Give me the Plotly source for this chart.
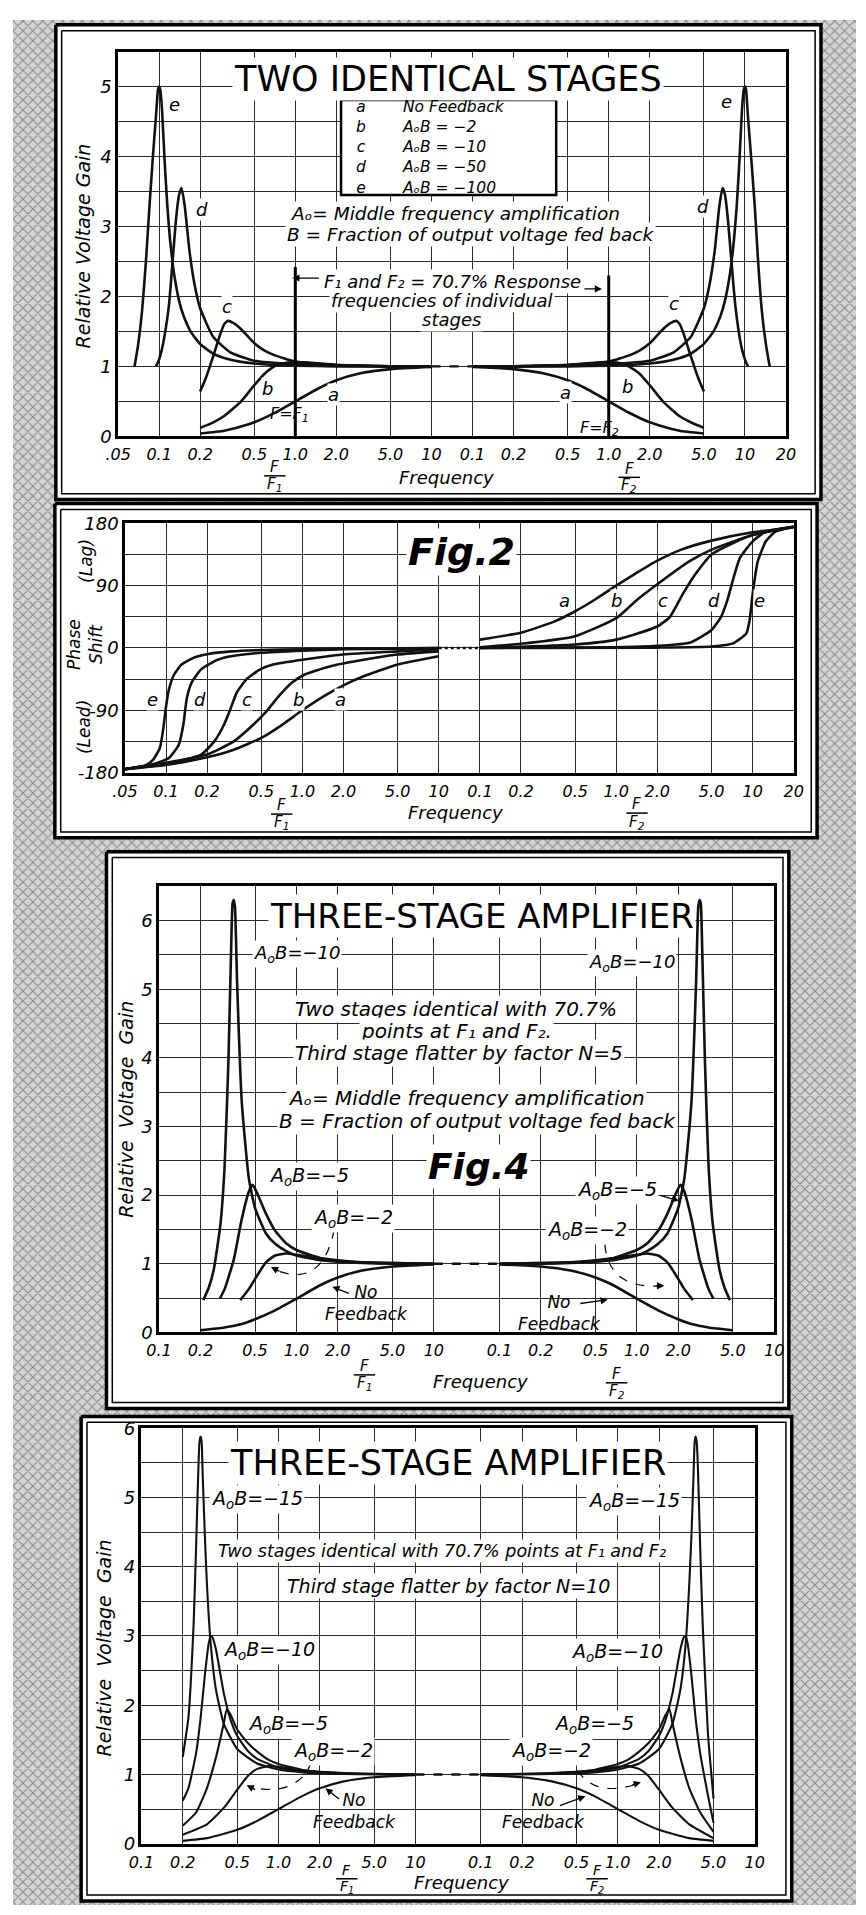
import math
import plotly.graph_objects as go

W, H = 866, 1915
FONT = "DejaVu Sans, Liberation Sans, Arial, sans-serif"
GRID = "#2a2a2a"

# ---------------- tick labels ----------------
P12_TICKS_L = [0.05, 0.1, 0.2, 0.5, 1, 2, 5, 10]
P12_TICKS_R = [0.1, 0.2, 0.5, 1, 2, 5, 10, 20]
P12_LABELS_L = [".05", "0.1", "0.2", "0.5", "1.0", "2.0", "5.0", "10"]
P12_LABELS_R = ["0.1", "0.2", "0.5", "1.0", "2.0", "5.0", "10", "20"]
P34_TICKS = [0.1, 0.2, 0.5, 1, 2, 5, 10]
P34_LABELS = ["0.1", "0.2", "0.5", "1.0", "2.0", "5.0", "10"]
JOIN_12 = 200   # right half (F/F2) offset on the shared log scale
JOIN_34 = 300

# ---------------- Panel 1: two identical stages (relative gain) ----------------
p1_a_fL = [0.2, 0.3, 0.4, 0.5, 0.7, 1.0, 1.5, 2.0, 3.0, 5.0, 10]
p1_a_yL = [0.04, 0.08, 0.14, 0.2, 0.33, 0.5, 0.69, 0.8, 0.9, 0.96, 0.99]
p1_a_fR = [0.1, 0.2, 0.33, 0.5, 0.67, 1.0, 1.4, 2.0, 2.5, 3.3, 5.0]
p1_a_yR = [0.99, 0.96, 0.9, 0.8, 0.69, 0.5, 0.34, 0.2, 0.14, 0.08, 0.04]

p1_b_fL = [0.2, 0.25, 0.3, 0.4, 0.5, 0.6, 0.7, 0.8, 1.0, 1.5, 2.0, 3.0, 5.0, 10]
p1_b_yL = [0.12, 0.2, 0.29, 0.5, 0.73, 0.9, 1.0, 1.04, 1.06, 1.04, 1.02, 1.01, 1.0, 1.0]
p1_b_fR = [0.1, 0.2, 0.33, 0.5, 0.67, 1.0, 1.25, 1.4, 1.67, 2.0, 2.5, 3.3, 4.0, 5.0]
p1_b_yR = [1.0, 1.0, 1.01, 1.02, 1.04, 1.06, 1.04, 1.0, 0.9, 0.73, 0.5, 0.29, 0.2, 0.12]

p1_c_fL = [0.2, 0.22, 0.25, 0.28, 0.3, 0.32, 0.35, 0.4, 0.5, 0.6, 0.7, 1.0, 1.5, 2.0, 3.0, 5.0, 10]
p1_c_yL = [0.64, 0.83, 1.15, 1.45, 1.6, 1.65, 1.62, 1.53, 1.33, 1.22, 1.16, 1.07, 1.035, 1.02, 1.01, 1.0, 1.0]
p1_c_fR = [0.1, 0.2, 0.33, 0.5, 0.67, 1.0, 1.43, 1.67, 2.0, 2.5, 2.86, 3.13, 3.33, 3.57, 4.0, 4.55, 5.0]
p1_c_yR = [1.0, 1.0, 1.01, 1.02, 1.035, 1.07, 1.16, 1.22, 1.33, 1.53, 1.62, 1.65, 1.6, 1.45, 1.15, 0.83, 0.64]

p1_d_fL = [0.095, 0.1, 0.105, 0.111, 0.118, 0.125, 0.133, 0.14, 0.146, 0.154, 0.167, 0.182, 0.2, 0.25, 0.333, 0.5, 1.0, 2.0, 5.0, 10]
p1_d_yL = [1.0, 1.1, 1.25, 1.5, 1.87, 2.45, 3.1, 3.45, 3.55, 3.3, 2.65, 2.17, 1.83, 1.42, 1.2, 1.08, 1.03, 1.01, 1.0, 1.0]
p1_d_fR = [0.1, 0.2, 0.5, 1.0, 2.0, 3.0, 4.0, 5.0, 5.5, 6.0, 6.5, 6.85, 7.15, 7.5, 8.0, 8.5, 9.0, 9.5, 10.0, 10.5]
p1_d_yR = [1.0, 1.0, 1.01, 1.03, 1.08, 1.2, 1.42, 1.83, 2.17, 2.65, 3.3, 3.55, 3.45, 3.1, 2.45, 1.87, 1.5, 1.25, 1.1, 1.0]

p1_e_fL = [0.066, 0.07, 0.075, 0.08, 0.085, 0.09, 0.095, 0.098, 0.1, 0.102, 0.105, 0.11, 0.115, 0.12, 0.125,
           0.13, 0.14, 0.15, 0.17, 0.2, 0.25, 0.3, 0.4, 0.5, 0.7, 1.0, 2.0, 5.0, 10]
p1_e_yL = [1.0, 1.3, 1.8, 2.5, 3.3, 4.0, 4.6, 4.95, 5.0, 4.95, 4.67, 3.9, 3.28, 2.83, 2.51,
           2.27, 1.94, 1.74, 1.5, 1.32, 1.18, 1.12, 1.064, 1.04, 1.02, 1.01, 1.0, 1.0, 1.0]
p1_e_fR = [0.1, 0.2, 0.5, 1.0, 1.43, 2.0, 2.5, 3.33, 4.0, 5.0, 5.88, 6.67, 7.14, 7.69, 8.0, 8.33, 8.7,
           9.09, 9.52, 9.8, 10.0, 10.2, 10.5, 11.1, 11.8, 12.5, 13.3, 14.3, 15.2]
p1_e_yR = [1.0, 1.0, 1.0, 1.01, 1.02, 1.04, 1.064, 1.12, 1.18, 1.32, 1.5, 1.74, 1.94, 2.27, 2.51, 2.83, 3.28,
           3.9, 4.67, 4.95, 5.0, 4.95, 4.6, 4.0, 3.3, 2.5, 1.8, 1.3, 1.0]

# ---------------- Panel 2: phase shift (degrees) ----------------
p2_a_fL = [0.05, 0.1, 0.2, 0.314, 0.5, 0.676, 1.0, 1.46, 2.0, 2.81, 5.0, 10]
p2_a_yL = [-175, -169, -158, -147, -130, -114, -90, -69, -54, -41, -24, -12]
p2_b_fL = [0.05, 0.1, 0.2, 0.314, 0.436, 0.543, 0.676, 0.84, 1.05, 1.63, 2.81, 5.0, 10]
p2_b_yL = [-175, -166, -154, -135, -111, -92, -69, -50, -38, -26, -17, -9.5, -5]
p2_c_fL = [0.05, 0.1, 0.181, 0.226, 0.266, 0.297, 0.331, 0.39, 0.49, 0.61, 1.0, 2.0, 5.0, 10]
p2_c_yL = [-175, -168, -154, -135, -111, -88, -64, -45, -31, -24, -17, -9.5, -5, -2]
p2_d_fL = [0.05, 0.08, 0.105, 0.124, 0.134, 0.142, 0.154, 0.181, 0.239, 0.3, 0.5, 1.0, 2.0, 5.0, 10]
p2_d_yL = [-175, -168, -159, -140, -111, -73, -50, -31, -17, -12, -7, -4, -2, -1, 0]
p2_e_fL = [0.05, 0.07, 0.08, 0.09, 0.095, 0.1, 0.105, 0.115, 0.13, 0.16, 0.2, 0.3, 0.5, 1.0, 2.0, 5.0, 10]
p2_e_yL = [-175, -170, -162, -145, -120, -85, -60, -38, -24, -14, -9, -5, -3, -2, -1, -0.5, 0]

p2_a_fR = [0.1, 0.2, 0.35, 0.5, 0.7, 1.0, 1.4, 2.0, 3.0, 5.0, 10, 20]
p2_a_yR = [12, 22, 38, 53, 70, 90, 108, 126, 142, 155, 167, 174]
p2_b_fR = [0.1, 0.2, 0.5, 1.0, 1.41, 2.0, 3.43, 5.0, 10, 20]
p2_b_yR = [1, 6, 17, 43, 69, 92, 125, 142, 163, 175]
p2_c_fR = [0.1, 0.5, 1.0, 2.0, 2.48, 3.08, 3.82, 5.0, 7.26, 10, 20]
p2_c_yR = [0, 5, 12, 31, 45, 78, 107, 135, 152, 163, 175]
p2_d_fR = [0.1, 1.0, 2.0, 3.5, 5.0, 5.87, 6.53, 7.26, 8.07, 10, 12.5, 20]
p2_d_yR = [0, 1, 3, 8, 26, 45, 69, 102, 130, 154, 168, 175]
p2_e_fR = [0.1, 2.0, 5.0, 7.26, 8.99, 9.5, 10, 10.9, 12.5, 14.7, 20]
p2_e_yR = [0, 0.5, 2, 7, 21, 40, 78, 125, 154, 168, 175]

# ---------------- Panel 3: three-stage amplifier, N = 5 ----------------
p3_nf_fL = [0.2, 0.3, 0.4, 0.5, 0.7, 1.0, 1.5, 2.0, 3.0, 5.0, 10]
p3_nf_yL = [0.03, 0.07, 0.12, 0.19, 0.32, 0.49, 0.69, 0.8, 0.9, 0.96, 0.99]
p3_nf_fR = [0.1, 0.2, 0.33, 0.5, 0.67, 1.0, 1.43, 2.0, 2.5, 3.33, 5.0]
p3_nf_yR = [0.99, 0.96, 0.9, 0.8, 0.69, 0.49, 0.32, 0.19, 0.12, 0.07, 0.03]
p3_k2_fL = [0.39, 0.45, 0.5, 0.6, 0.7, 0.85, 1.0, 1.5, 2.0, 3.0, 5.0, 10]
p3_k2_yL = [0.47, 0.63, 0.78, 1.02, 1.12, 1.15, 1.13, 1.08, 1.05, 1.02, 1.01, 1.0]
p3_k2_fR = [0.1, 0.2, 0.33, 0.5, 0.67, 1.0, 1.18, 1.43, 1.67, 2.0, 2.22, 2.56]
p3_k2_yR = [1.0, 1.01, 1.02, 1.05, 1.08, 1.13, 1.15, 1.12, 1.02, 0.78, 0.63, 0.47]
p3_k5_fL = [0.277, 0.3, 0.35, 0.4, 0.45, 0.48, 0.52, 0.6, 0.7, 0.85, 1.0, 1.5, 2.0, 3.0, 5.0, 10]
p3_k5_yL = [0.49, 0.63, 1.06, 1.65, 2.05, 2.15, 2.02, 1.73, 1.48, 1.29, 1.2, 1.08, 1.04, 1.02, 1.01, 1.0]
p3_k5_fR = [0.1, 0.2, 0.33, 0.5, 0.67, 1.0, 1.18, 1.43, 1.67, 1.92, 2.08, 2.22, 2.5, 2.86, 3.33, 3.61]
p3_k5_yR = [1.0, 1.01, 1.02, 1.04, 1.08, 1.2, 1.29, 1.48, 1.73, 2.02, 2.15, 2.05, 1.65, 1.06, 0.63, 0.49]
p3_k10_fL = [0.21, 0.23, 0.25, 0.28, 0.3, 0.32, 0.335, 0.343, 0.35, 0.357, 0.37, 0.4, 0.45, 0.5, 0.6, 0.7,
             0.85, 1.0, 1.5, 2.0, 3.0, 5.0, 10]
p3_k10_yL = [0.47, 0.65, 0.91, 1.58, 2.41, 3.96, 5.6, 6.25, 6.3, 6.2, 5.1, 3.36, 2.25, 1.81, 1.44, 1.29,
             1.18, 1.12, 1.05, 1.03, 1.01, 1.0, 1.0]
p3_k10_fR = [0.1, 0.2, 0.33, 0.5, 0.67, 1.0, 1.18, 1.43, 1.67, 2.0, 2.22, 2.5, 2.7, 2.8, 2.86, 2.92, 2.99,
             3.13, 3.33, 3.57, 4.0, 4.35, 4.76]
p3_k10_yR = [1.0, 1.0, 1.01, 1.03, 1.05, 1.12, 1.18, 1.29, 1.44, 1.81, 2.25, 3.36, 5.1, 6.2, 6.3, 6.25, 5.6,
             3.96, 2.41, 1.58, 0.91, 0.65, 0.47]

# ---------------- Panel 4: three-stage amplifier, N = 10 ----------------
p4_nf_fL = [0.2, 0.3, 0.5, 0.7, 1.0, 1.5, 2.0, 3.0, 5.0, 10]
p4_nf_yL = [0.04, 0.08, 0.2, 0.33, 0.5, 0.69, 0.8, 0.9, 0.96, 0.99]
p4_nf_fR = [0.1, 0.2, 0.33, 0.5, 0.67, 1.0, 1.43, 2.0, 3.33, 5.0]
p4_nf_yR = [0.99, 0.96, 0.9, 0.8, 0.69, 0.5, 0.33, 0.2, 0.08, 0.04]
p4_k2_fL = [0.2, 0.3, 0.4, 0.5, 0.6, 0.7, 0.85, 1.0, 1.5, 2.0, 3.0, 5.0, 10]
p4_k2_yL = [0.13, 0.28, 0.52, 0.78, 0.98, 1.08, 1.12, 1.11, 1.06, 1.04, 1.02, 1.01, 1.0]
p4_k2_fR = [0.1, 0.2, 0.33, 0.5, 0.67, 1.0, 1.18, 1.43, 1.67, 2.0, 2.5, 3.33, 5.0]
p4_k2_yR = [1.0, 1.01, 1.02, 1.04, 1.06, 1.11, 1.12, 1.08, 0.98, 0.78, 0.52, 0.28, 0.08]
p4_k5_fL = [0.2, 0.25, 0.3, 0.35, 0.4, 0.42, 0.45, 0.5, 0.6, 0.7, 0.85, 1.0, 1.5, 2.0, 3.0, 5.0, 10]
p4_k5_yL = [0.26, 0.45, 0.8, 1.25, 1.75, 1.95, 1.85, 1.65, 1.45, 1.33, 1.21, 1.15, 1.065, 1.036, 1.016, 1.006, 1.0]
p4_k5_fR = [0.1, 0.2, 0.33, 0.5, 0.67, 1.0, 1.18, 1.43, 1.67, 2.0, 2.22, 2.38, 2.5, 2.86, 3.33, 4.0, 5.0]
p4_k5_yR = [1.0, 1.006, 1.016, 1.036, 1.065, 1.15, 1.21, 1.33, 1.45, 1.65, 1.85, 1.95, 1.75, 1.25, 0.8, 0.45, 0.17]
p4_k10_fL = [0.2, 0.22, 0.25, 0.27, 0.29, 0.31, 0.32, 0.33, 0.35, 0.4, 0.45, 0.5, 0.6, 0.7, 1.0, 1.5, 2.0, 3.0, 5.0, 10]
p4_k10_yL = [0.62, 0.8, 1.3, 1.81, 2.43, 2.9, 3.0, 2.98, 2.8, 2.16, 1.77, 1.556, 1.334, 1.226, 1.1, 1.042, 1.023, 1.01, 1.004, 1.0]
p4_k10_fR = [0.1, 0.2, 0.33, 0.5, 0.67, 1.0, 1.43, 1.67, 2.0, 2.22, 2.5, 2.86, 3.03, 3.13, 3.23, 3.45, 3.7, 4.0, 4.55, 5.0]
p4_k10_yR = [1.0, 1.004, 1.01, 1.023, 1.042, 1.1, 1.226, 1.334, 1.556, 1.77, 2.16, 2.8, 2.98, 3.0, 2.9, 2.43, 1.81, 1.3, 0.7, 0.3]
p4_k15_fL = [0.2, 0.22, 0.24, 0.25, 0.26, 0.265, 0.27, 0.275, 0.28, 0.29, 0.3, 0.32, 0.35, 0.4, 0.5, 0.7, 1.0,
             1.5, 2.0, 3.0, 5.0, 10]
p4_k15_yL = [1.25, 1.82, 3.16, 4.24, 5.4, 5.8, 5.88, 5.8, 5.3, 4.46, 3.77, 2.89, 2.22, 1.727, 1.367, 1.158, 1.071,
             1.03, 1.017, 1.007, 1.002, 1.0]
p4_k15_fR = [0.1, 0.2, 0.33, 0.5, 0.67, 1.0, 1.43, 2.0, 2.5, 2.86, 3.13, 3.33, 3.45, 3.57, 3.64, 3.7, 3.77, 3.85,
             4.0, 4.17, 4.55, 5.0]
p4_k15_yR = [1.0, 1.002, 1.007, 1.017, 1.03, 1.071, 1.158, 1.367, 1.727, 2.22, 2.89, 3.77, 4.46, 5.3, 5.8, 5.88,
             5.8, 5.4, 4.24, 3.16, 1.6, 0.65]

# legend of panel 1
P1_LEGEND_KEYS = ["a", "b", "c", "d", "e"]
P1_LEGEND_TEXT = ["No Feedback", "AₒB = −2", "AₒB = −10", "AₒB = −50", "AₒB = −100"]

# middle (broken-scale) dashed joins
MID_GAIN = [1.0, 1.0]
MID_PHASE = [0.0, 0.0]

# ---------------- layout geometry (pixels) ----------------
PANELS = {
    2: dict(x=(108, 794), y=(41, 430)),
    3: dict(x=(115, 802), y=(518, 770)),
    4: dict(x=(150, 782), y=(885, 1336)),
    5: dict(x=(132, 762), y=(1433, 1853)),
}
FRAMES = [(44, 14, 830, 494), (43, 498, 826, 836), (96, 850, 797, 1413), (70, 1421, 800, 1911)]


def PX(x):
    return x / W


def PY(y):
    return 1 - y / H


fig = go.Figure()

# ---- background: crosshatch page + white panel cards ----
fig.add_trace(go.Scatter(
    x=[0, W, W, 0, 0], y=[0, 0, H, H, 0], mode="lines", fill="toself",
    fillcolor="#cfcfcf", line=dict(width=0),
    fillpattern=dict(shape="x", size=7, solidity=0.28, fgcolor="#3a3a3a", bgcolor="#d4d4d4"),
    hoverinfo="skip", showlegend=False, xaxis="x", yaxis="y"))
fig.add_trace(go.Scatter(x=[0, W, W, 0, 0], y=[0, 0, 9, 9, 0], mode="lines", fill="toself",
                         fillcolor="white", line=dict(width=0), hoverinfo="skip", showlegend=False))
for (x0, y0, x1, y1) in FRAMES:
    fig.add_trace(go.Scatter(x=[x0, x1, x1, x0, x0], y=[y0, y0, y1, y1, y0], mode="lines", fill="toself",
                             fillcolor="white", line=dict(color="black", width=3.5),
                             hoverinfo="skip", showlegend=False))
    fig.add_trace(go.Scatter(x=[x0 + 6, x1 - 6, x1 - 6, x0 + 6, x0 + 6],
                             y=[y0 + 6, y0 + 6, y1 - 6, y1 - 6, y0 + 6], mode="lines",
                             line=dict(color="black", width=1.5), hoverinfo="skip", showlegend=False))


def curve(k, fL, yL, fR, yR, join, width=2.6):
    for xs, ys in ((fL, yL), ([f * join for f in fR], yR)):
        fig.add_trace(go.Scatter(x=xs, y=ys, mode="lines", xaxis=f"x{k}", yaxis=f"y{k}",
                                 line=dict(color="#111", width=width, shape="spline", smoothing=0.5),
                                 hoverinfo="skip", showlegend=False))


def midline(k, join, ys, dash="dash"):
    fig.add_trace(go.Scatter(x=[10, 0.1 * join], y=ys, mode="lines", xaxis=f"x{k}", yaxis=f"y{k}",
                             line=dict(color="#111", width=2.4, dash=dash),
                             hoverinfo="skip", showlegend=False))


# panel 1
for fL, yL, fR, yR in [(p1_a_fL, p1_a_yL, p1_a_fR, p1_a_yR), (p1_b_fL, p1_b_yL, p1_b_fR, p1_b_yR),
                       (p1_c_fL, p1_c_yL, p1_c_fR, p1_c_yR), (p1_d_fL, p1_d_yL, p1_d_fR, p1_d_yR),
                       (p1_e_fL, p1_e_yL, p1_e_fR, p1_e_yR)]:
    curve(2, fL, yL, fR, yR, JOIN_12)
midline(2, JOIN_12, MID_GAIN)
# F = F1 and F = F2 markers
fig.add_trace(go.Scatter(x=[1, 1], y=[-0.1, 2.42], mode="lines", xaxis="x2", yaxis="y2",
                         line=dict(color="black", width=3), hoverinfo="skip", showlegend=False, cliponaxis=False))
fig.add_trace(go.Scatter(x=[JOIN_12, JOIN_12], y=[-0.1, 2.3], mode="lines", xaxis="x2", yaxis="y2",
                         line=dict(color="black", width=3), hoverinfo="skip", showlegend=False, cliponaxis=False))

# panel 2
for fL, yL, fR, yR in [(p2_a_fL, p2_a_yL, p2_a_fR, p2_a_yR), (p2_b_fL, p2_b_yL, p2_b_fR, p2_b_yR),
                       (p2_c_fL, p2_c_yL, p2_c_fR, p2_c_yR), (p2_d_fL, p2_d_yL, p2_d_fR, p2_d_yR),
                       (p2_e_fL, p2_e_yL, p2_e_fR, p2_e_yR)]:
    curve(3, fL, yL, fR, yR, JOIN_12)
midline(3, JOIN_12, MID_PHASE, dash="dot")

# panel 3
for fL, yL, fR, yR in [(p3_nf_fL, p3_nf_yL, p3_nf_fR, p3_nf_yR), (p3_k2_fL, p3_k2_yL, p3_k2_fR, p3_k2_yR),
                       (p3_k5_fL, p3_k5_yL, p3_k5_fR, p3_k5_yR), (p3_k10_fL, p3_k10_yL, p3_k10_fR, p3_k10_yR)]:
    curve(4, fL, yL, fR, yR, JOIN_34)
midline(4, JOIN_34, MID_GAIN)

# panel 4
for fL, yL, fR, yR in [(p4_nf_fL, p4_nf_yL, p4_nf_fR, p4_nf_yR), (p4_k2_fL, p4_k2_yL, p4_k2_fR, p4_k2_yR),
                       (p4_k5_fL, p4_k5_yL, p4_k5_fR, p4_k5_yR), (p4_k10_fL, p4_k10_yL, p4_k10_fR, p4_k10_yR),
                       (p4_k15_fL, p4_k15_yL, p4_k15_fR, p4_k15_yR)]:
    curve(5, fL, yL, fR, yR, JOIN_34, width=2.1)
midline(5, JOIN_34, MID_GAIN)


# ---------------- axes ----------------
def xaxis_cfg(k, tvals, tlabels, lo, hi):
    g = PANELS[k]
    return dict(domain=[PX(g["x"][0]), PX(g["x"][1])], type="log", anchor=f"y{k}",
                range=[math.log10(lo), math.log10(hi)], tickmode="array", tickvals=tvals,
                ticktext=[f"<i>{t}</i>" for t in tlabels], showgrid=True, gridcolor=GRID, gridwidth=1,
                showline=True, mirror=True, linecolor="black", linewidth=2.5, ticks="", zeroline=False,
                ticklabelstandoff=2,
                tickfont=dict(size=16, color="black", family=FONT), fixedrange=True)


def yaxis_cfg(k, lo, hi, step, labelstep):
    g = PANELS[k]
    major, minor = [], []
    v = lo
    while v <= hi + 1e-9:
        if abs(v / labelstep - round(v / labelstep)) < 1e-9:
            major.append(v)
        else:
            minor.append(v)
        v += step
    return dict(domain=[PY(g["y"][1]), PY(g["y"][0])], anchor=f"x{k}", range=[lo, hi],
                tickmode="array", tickvals=major, ticktext=[f"<i>{int(round(m))}</i>" for m in major],
                showgrid=True, gridcolor=GRID, gridwidth=1,
                minor=dict(tickmode="array", tickvals=minor, showgrid=True, gridcolor=GRID, gridwidth=1, ticks=""),
                showline=True, mirror=True, linecolor="black", linewidth=2.5, ticks="", zeroline=False,
                tickfont=dict(size=18, color="black", family=FONT), fixedrange=True)


p12_vals = P12_TICKS_L + [t * JOIN_12 for t in P12_TICKS_R]
p12_text = P12_LABELS_L + P12_LABELS_R
p34_vals = P34_TICKS + [t * JOIN_34 for t in P34_TICKS]
p34_text = P34_LABELS + P34_LABELS

layout = dict(
    width=W, height=H, autosize=False, margin=dict(l=0, r=0, t=0, b=0),
    paper_bgcolor="white", plot_bgcolor="rgba(0,0,0,0)", showlegend=False,
    font=dict(family=FONT, color="black"),
    xaxis=dict(domain=[0, 1], range=[0, W], visible=False, fixedrange=True),
    yaxis=dict(domain=[0, 1], range=[H, 0], visible=False, fixedrange=True),
    xaxis2=xaxis_cfg(2, p12_vals, p12_text, 0.05, 20 * JOIN_12),
    yaxis2=yaxis_cfg(2, 0, 5.5, 0.5, 1),
    xaxis3=xaxis_cfg(3, p12_vals, p12_text, 0.05, 20 * JOIN_12),
    yaxis3=yaxis_cfg(3, -180, 180, 45, 90),
    xaxis4=xaxis_cfg(4, p34_vals, p34_text, 0.1, 10 * JOIN_34),
    yaxis4=yaxis_cfg(4, 0, 6.5, 0.5, 1),
    xaxis5=xaxis_cfg(5, p34_vals, p34_text, 0.1, 10 * JOIN_34),
    yaxis5=yaxis_cfg(5, 0, 6, 0.5, 1),
)
fig.update_layout(**layout)

# ---------------- annotations ----------------
ann = []
shapes = []


def T(x, y, text, size=17, italic=True, bg="white", xanchor="center", angle=0, bold=False, align="center"):
    t = text
    if italic:
        t = f"<i>{t}</i>"
    if bold:
        t = f"<b>{t}</b>"
    ann.append(dict(x=PX(x), y=PY(y), xref="paper", yref="paper", text=t, showarrow=False,
                    xanchor=xanchor, yanchor="middle", textangle=angle, align=align,
                    font=dict(size=size, color="black", family=FONT),
                    bgcolor=bg if bg else "rgba(0,0,0,0)", borderpad=1))


def D(k, f, y, text, size=18, bg="white"):
    ann.append(dict(x=math.log10(f), y=y, xref=f"x{k}", yref=f"y{k}", text=f"<i>{text}</i>",
                    showarrow=False, font=dict(size=size, color="black", family=FONT),
                    bgcolor=bg, borderpad=0))


def ARROW(xh, yh, xt, yt, width=1.3):
    ann.append(dict(x=PX(xh), y=PY(yh), xref="paper", yref="paper", text="", showarrow=True,
                    ax=xt - xh, ay=yt - yh, axref="pixel", ayref="pixel", arrowhead=2, arrowsize=1.1,
                    arrowwidth=width, arrowcolor="black", standoff=0))


def FRAC(x, yF, sub, size=15, gap=18):
    T(x, yF, "F", size=size, bg=None)
    T(x, yF + gap, f"F<sub>{sub}</sub>", size=size, bg=None)
    shapes.append(dict(type="line", xref="paper", yref="paper", x0=PX(x - 11), x1=PX(x + 11),
                       y0=PY(yF + gap / 2), y1=PY(yF + gap / 2), line=dict(color="black", width=1.5)))


def DASHPATH(p0, c, p1):
    path = f"M {PX(p0[0])},{PY(p0[1])} Q {PX(c[0])},{PY(c[1])} {PX(p1[0])},{PY(p1[1])}"
    shapes.append(dict(type="path", xref="paper", yref="paper", path=path,
                       line=dict(color="black", width=1.2, dash="dash")))


AOB = "A<sub>o</sub>B"

# ---- panel 1 ----
T(447, 69, "TWO IDENTICAL STAGES", size=35, italic=False)
shapes.append(dict(type="rect", xref="paper", yref="paper", x0=PX(337), x1=PX(558), y0=PY(90), y1=PY(186),
                   line=dict(color="black", width=2.5), fillcolor="white"))
T(357, 138, "<br>".join(P1_LEGEND_KEYS), size=15.5, bg=None)
T(398, 138, "<br>".join(P1_LEGEND_TEXT), size=15.5, bg=None, xanchor="left", align="left")
T(455, 205, "Aₒ= Middle frequency amplification", size=18.5)
T(470, 226, "B = Fraction of output voltage fed back", size=18.5)
T(451, 274, "F₁ and F₂ = 70.7% Response", size=18)
T(441, 293, "frequencies of individual", size=18)
T(450, 312, "stages", size=18)
ARROW(287, 270, 315, 270)
ARROW(605, 281, 586, 281)
T(284, 408, "F=F<sub>1</sub>", size=16, bg=None)
T(602, 422, "F=F<sub>2</sub>", size=16, bg=None)
for f, y, s in [(0.13, 4.75, "e"), (0.207, 3.24, "d"), (0.317, 1.86, "c"), (0.62, 0.69, "b"), (1.91, 0.6, "a"),
                (7.3 * JOIN_12, 4.78, "e"), (4.9 * JOIN_12, 3.28, "d"), (3.0 * JOIN_12, 1.9, "c"),
                (1.38 * JOIN_12, 0.71, "b"), (0.48 * JOIN_12, 0.62, "a")]:
    D(2, f, y, s)
T(72, 238, "Relative Voltage Gain", size=19, bg=None, angle=-90)
FRAC(269, 461, 1)
T(445, 472, "Frequency", size=18, bg=None)
FRAC(633, 463, 2, gap=17)

# ---- panel 2 ----
T(461, 547, "Fig.2", size=38, bold=True)
T(75, 556, "(Lag)", size=17, bg=None, angle=-90)
T(74, 641, "Phase<br>Shift", size=17, bg=None, angle=-90)
T(73, 724, "(Lead)", size=17, bg=None, angle=-90)
for f, y, s in [(0.079, -74, "e"), (0.178, -74, "d"), (0.39, -74, "c"), (0.94, -74, "b"), (1.9, -74, "a"),
                (0.418 * JOIN_12, 69, "a"), (1.0 * JOIN_12, 69, "b"), (2.2 * JOIN_12, 69, "c"),
                (5.2 * JOIN_12, 69, "d"), (11.2 * JOIN_12, 69, "e")]:
    D(3, f, y, s)
FRAC(276, 803, 1)
T(455, 810, "Frequency", size=18, bg=None)
FRAC(641, 802, 2)

# ---- panel 3 ----
T(482, 915, "THREE-STAGE AMPLIFIER", size=34, italic=False)
T(292, 953, f"{AOB}=−10", size=18)
T(636, 963, f"{AOB}=−10", size=18)
T(455, 1009, "Two stages identical with 70.7%", size=20)
T(456, 1031, "points at F₁ and F₂.", size=20)
T(458, 1054, "Third stage flatter by factor N=5", size=20)
T(466, 1099, "Aₒ= Middle frequency amplification", size=20)
T(477, 1122, "B = Fraction of output voltage fed back", size=20)
T(478, 1168, "Fig.4", size=36, bold=True)
T(304, 1178, f"{AOB}=−5", size=19)
T(349, 1221, f"{AOB}=−2", size=19)
DASHPATH((330, 1232), (318, 1292), (270, 1273))
ARROW(265, 1270, 275, 1275)
T(363, 1306, "No<br>Feedback", size=17, bg=None)
ARROW(328, 1290, 346, 1297)
T(620, 1193, f"{AOB}=−5", size=19)
ARROW(684, 1203, 664, 1197)
T(590, 1233, f"{AOB}=−2", size=19)
DASHPATH((608, 1247), (612, 1292), (664, 1289))
ARROW(669, 1289, 659, 1289)
T(561, 1316, "No<br>Feedback", size=17, bg=None)
ARROW(611, 1303, 582, 1307)
T(116, 1110, "Relative  Voltage  Gain", size=19, bg=None, angle=-90)
FRAC(361, 1370, 1)
T(480, 1386, "Frequency", size=18, bg=None)
FRAC(620, 1378, 2)

# ---- panel 4 ----
T(447, 1468, "THREE-STAGE AMPLIFIER", size=35, italic=False)
T(251, 1505, f"{AOB}=−15", size=19)
T(638, 1507, f"{AOB}=−15", size=19)
T(441, 1557, "Two stages identical with 70.7% points at F₁ and F₂", size=17.5)
T(447, 1592, "Third stage flatter by factor N=10", size=19)
T(263, 1658, f"{AOB}=−10", size=19)
T(620, 1660, f"{AOB}=−10", size=19)
T(283, 1732, f"{AOB}=−5", size=19)
T(597, 1732, f"{AOB}=−5", size=19)
T(329, 1760, f"{AOB}=−2", size=19)
T(553, 1760, f"{AOB}=−2", size=19)
DASHPATH((307, 1770), (292, 1806), (245, 1796))
ARROW(240, 1794, 250, 1799)
DASHPATH((580, 1779), (598, 1806), (640, 1793))
ARROW(645, 1791, 635, 1794)
T(351, 1820, "No<br>Feedback", size=17, bg=None)
ARROW(321, 1797, 336, 1809)
T(545, 1820, "No<br>Feedback", size=17, bg=None)
ARROW(588, 1805, 561, 1815)
T(93, 1655, "Relative  Voltage  Gain", size=19, bg=None, angle=-90)
FRAC(343, 1880, 1, size=14, gap=17)
T(461, 1892, "Frequency", size=18, bg=None)
FRAC(600, 1880, 2, size=14, gap=17)

fig.update_layout(annotations=ann, shapes=shapes)
fig.write_html("out.html", config={"displayModeBar": False},
               post_script="document.body.style.margin='0px';document.body.style.overflow='hidden';")
